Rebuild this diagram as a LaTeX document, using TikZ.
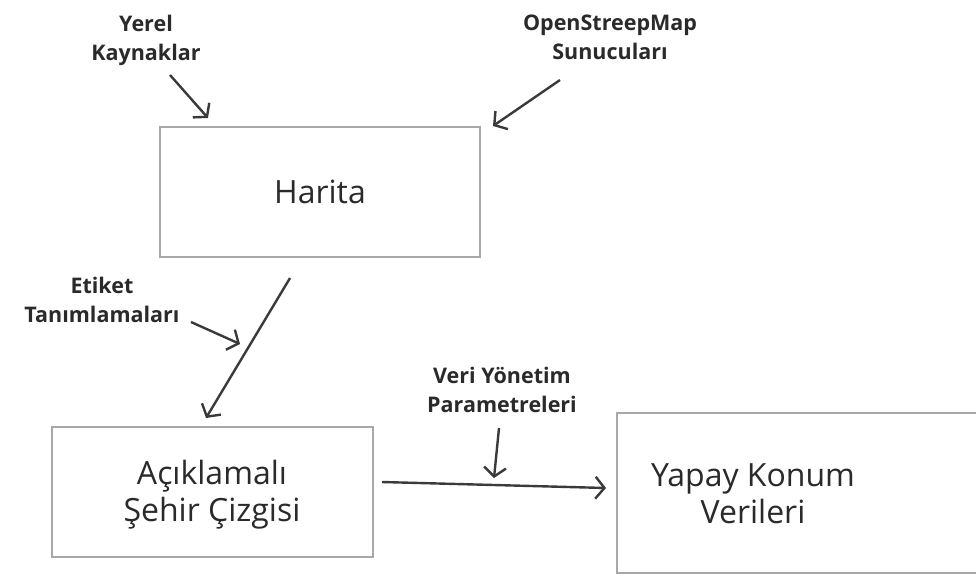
\documentclass[tikz,border=0pt]{standalone}
\usepackage{fontspec}
\setmainfont{Open Sans}
\usetikzlibrary{arrows.meta}
\definecolor{ink}{HTML}{2A2A2A}
\definecolor{wire}{HTML}{3A3A3A}
\definecolor{frame}{HTML}{A8A8A8}
\tikzset{
  box/.style={draw=frame, line width=2pt, fill=white, inner sep=0pt},
  boxtext/.style={text=ink, font=\fontsize{32}{37}\selectfont, align=center, inner sep=0pt},
  lbl/.style={text=ink, font=\bfseries\fontsize{21.5}{29}\selectfont, align=center, inner sep=0pt},
  flow/.style={draw=wire, line width=2.4pt, -{Straight Barb[length=9pt, width=22pt, line width=2.4pt]}}
}
\begin{document}
\begin{tikzpicture}[x=1pt, y=-1pt]
\useasboundingbox (0,0) rectangle (976,576);
\clip (0,0) rectangle (976,576);

% boxes
\node[box, minimum width=320pt, minimum height=130pt] (harita) at (320,192) {};
\node[boxtext] (haritatxt) at (320,192) {Harita};
\node[box, minimum width=321pt, minimum height=130pt] (aciklama) at (212.5,492) {};
\node[boxtext] (aciklamatxt) at (212,495) {Açıklamalı\\Şehir Çizgisi};
\node[box, minimum width=380pt, minimum height=160pt] (yapay) at (807,493) {};
\node[boxtext] (yapaytxt) at (753,494) {Yapay Konum\\Verileri};

% input labels
\node[lbl] (yerel) at (146,40) {Yerel\\Kaynaklar};
\node[lbl] (osm) at (610,37) {OpenStreepMap\\Sunucuları};
\node[lbl] (etiket) at (102,300) {Etiket\\Tanımlamaları};
\node[lbl] (veri) at (502,390) {Veri Yönetim\\Parametreleri};

% anchor points for the connectors
\coordinate (yerelS) at (170,75);
\coordinate (yerelE) at (208,118);
\coordinate (osmS) at (560,80);
\coordinate (osmE) at (493,126);
\coordinate (etiketS) at (191,322);
\coordinate (etiketE) at (240,344);
\coordinate (haritaS) at (290,278);
\coordinate (aciklamaE) at (206,418);
\coordinate (veriS) at (499,428);
\coordinate (veriE) at (494,478);
\coordinate (aciklamaS) at (382,482);
\coordinate (yapayE) at (606,488);

% connectors
\draw[flow] (yerelS) -- (yerelE);
\draw[flow] (osmS) -- (osmE);
\draw[flow] (etiketS) -- (etiketE);
\draw[flow] (haritaS) -- (aciklamaE);
\draw[flow] (veriS) -- (veriE);
\draw[flow] (aciklamaS) -- (yapayE);
\end{tikzpicture}
\end{document}
